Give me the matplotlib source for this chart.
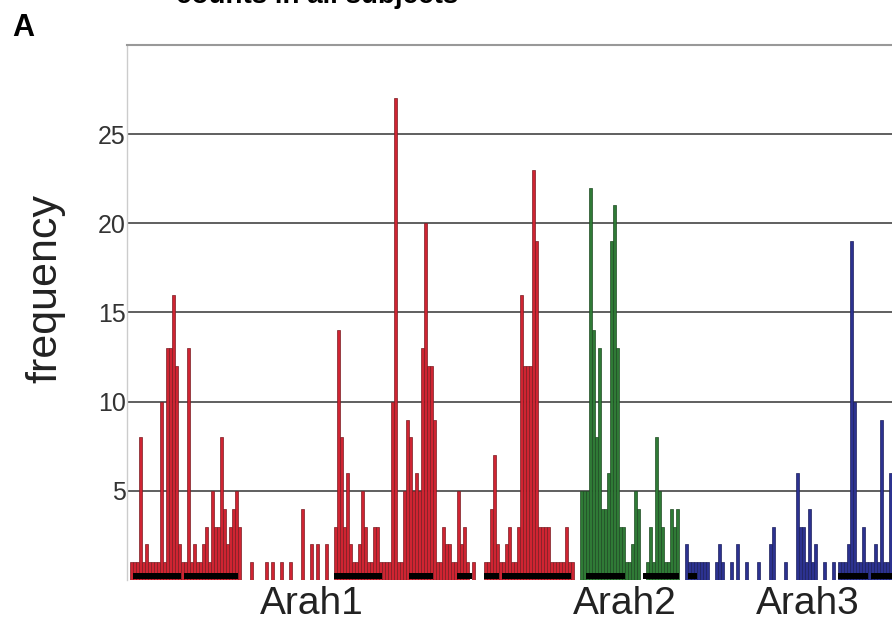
import matplotlib
matplotlib.use('Agg')
import matplotlib.pyplot as plt
import numpy as np

plt.rcParams['font.family'] = ['Liberation Sans', 'DejaVu Sans']

# peptide frequency per position
arah1 = [0, 1, 1, 1, 8, 1, 2, 1, 1, 1, 1, 10, 1, 13, 13, 16, 12, 2, 1, 1,
         13, 1, 2, 1, 1, 2, 3, 1, 5, 3, 3, 8, 4, 2, 3, 4, 5, 3, 0, 0,
         0, 1, 0, 0, 0, 0, 1, 0, 1, 0, 0, 1, 0, 0, 1, 0, 0, 0, 4, 0,
         0, 2, 0, 2, 0, 0, 2, 0, 0, 3, 14, 8, 3, 6, 2, 1, 1, 2, 5, 3,
         1, 1, 3, 3, 1, 1, 1, 1, 10, 27, 1, 1, 5, 9, 8, 5, 6, 5, 13, 20,
         12, 12, 9, 1, 1, 3, 2, 2, 1, 1, 5, 2, 3, 1, 0, 1, 0, 0, 0, 1,
         1, 4, 7, 2, 1, 1, 2, 3, 1, 1, 3, 16, 12, 12, 12, 23, 19, 3, 3, 3,
         3, 1, 1, 1, 1, 1, 3, 1, 1, 0, 0]
arah2 = [5, 5, 5, 22, 14, 8, 13, 4, 4, 6, 19, 21, 13, 3, 3, 1, 1, 2, 5, 4,
         0, 0, 1, 3, 1, 8, 5, 3, 1, 1, 4, 3, 4, 0, 0]
arah3 = [2, 1, 1, 1, 1, 1, 1, 1, 0, 0, 1, 2, 1, 0, 0, 1, 0, 2, 0, 0,
         1, 0, 0, 0, 1, 0, 0, 0, 2, 3, 0, 0, 0, 1, 0, 0, 0, 6, 3, 3,
         1, 4, 1, 2, 0, 0, 1, 0, 0, 1, 0, 1, 1, 1, 2, 19, 10, 1, 1, 3,
         1, 1, 1, 2, 1, 9, 1, 1, 6]

# black marks along the base (start, length)
epitopes = [(2, 16), (19, 18), (69, 16), (94, 8), (110, 5), (119, 5),
            (125, 23), (153, 13), (172, 12), (187, 3), (237, 10), (248, 7)]

protein_names = ['Arah1', 'Arah2', 'Arah3']
label_pos = [61.7, 166, 227]
yticks = [5, 10, 15, 20, 25]

colors = ['#cf2432', '#2f7a36', '#2c3290']
edges = ['#7a1c22', '#1e4a22', '#1c1f5c']

fig = plt.figure(figsize=(8.92, 6.24), dpi=100)
ax = fig.add_axes([0.1424, 0.0705, 0.8576, 0.8574])

start = 0
for vals, c, e in zip([arah1, arah2, arah3], colors, edges):
    x = np.arange(start, start + len(vals))
    ax.bar(x, vals, width=1, align='edge', color=c, edgecolor=e,
           linewidth=0.5, zorder=2)
    start += len(vals)

ax.broken_barh(epitopes, (0.05, 0.32), facecolors='black', zorder=3)

ax.set_xlim(0, start)
ax.set_ylim(0, 30)
ax.set_yticks(yticks)
ax.set_yticklabels([str(t) for t in yticks], fontsize=18, color='#333333')
ax.set_xticks(label_pos)
ax.set_xticklabels(protein_names, fontsize=28, color='#222222')
ax.tick_params(axis='both', length=0)
ax.tick_params(axis='x', pad=4)
ax.tick_params(axis='y', pad=1)
ax.grid(axis='y', color='#444444', linewidth=1.2, zorder=1)
ax.set_axisbelow(True)

ax.spines['right'].set_visible(False)
ax.spines['bottom'].set_visible(False)
ax.spines['top'].set_color('#999999')
ax.spines['top'].set_linewidth(1.5)
ax.spines['left'].set_color('#cccccc')
ax.spines['left'].set_linewidth(1.0)

ax.set_ylabel('frequency', fontsize=31, color='#222222')
ax.yaxis.set_label_coords(-0.081, 0.545)

fig.text(0.026, 0.955, 'A', fontsize=22, fontweight='bold',
         ha='center', va='center')
fig.text(0.355, 1.006, 'counts in all subjects', fontsize=20,
         fontweight='bold', ha='center', va='center')

fig.savefig('out.png', dpi=100)
